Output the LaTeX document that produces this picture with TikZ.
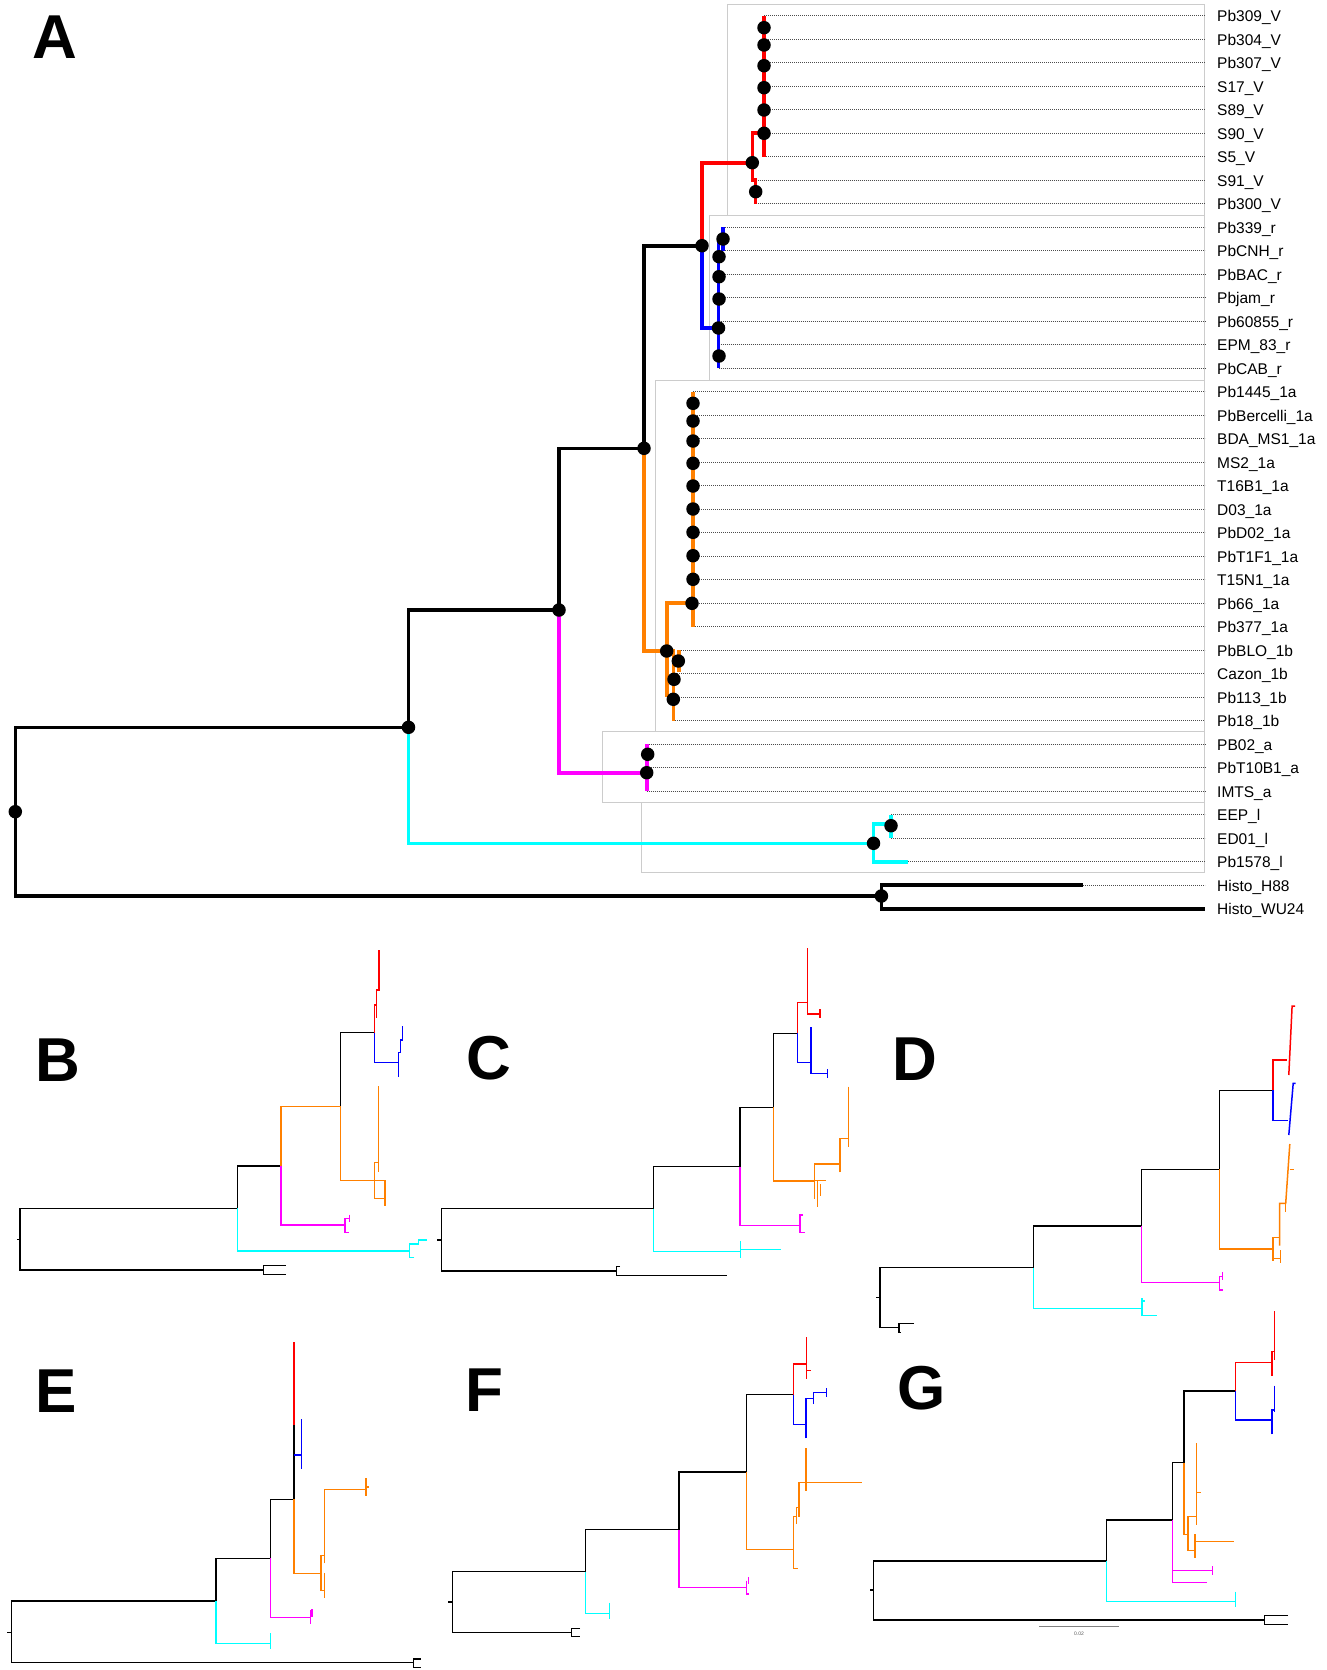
\documentclass[tikz,border=0pt]{standalone}
\usepackage{fontspec}
\setmainfont{Liberation Sans}
\definecolor{tred}{RGB}{255,0,0}
\definecolor{tblue}{RGB}{0,0,255}
\definecolor{torange}{RGB}{255,128,0}
\definecolor{tmag}{RGB}{255,0,255}
\definecolor{tcyan}{RGB}{0,255,255}
\begin{document}
\begin{tikzpicture}[x=1pt, y=-1pt,
  br/.style={line width=3.6pt},
  sb/.style={line width=1.5pt},
  dot/.style={circle, fill=black, inner sep=0pt, minimum size=13.5pt},
  leaf/.style={anchor=base west, inner sep=0pt, font=\fontsize{15.5}{18}\selectfont},
  lead/.style={gray!60!black, line width=0.8pt, dash pattern=on 0.8pt off 1.2pt},
  clade/.style={draw=gray!40, line width=1pt},
  panel/.style={anchor=base west, inner sep=0pt, font=\fontsize{62}{70}\selectfont\bfseries}]
\useasboundingbox (0,0) rectangle (1327,1670);
\fill[white] (0,0) rectangle (1327,1670);

\node[panel] (pa) at (32.5,58.6) {A};
\node[panel] (pb) at (35,1081.7) {B};
\node[panel] (pc) at (466.7,1079) {C};
\node[panel] (pd) at (892.6,1080) {D};
\node[panel] (pe) at (35,1412.7) {E};
\node[panel] (pf) at (465,1411) {F};
\node[panel] (pg) at (897,1409) {G};

\draw[clade] (727.4,4.3) rectangle (1204,215);
\draw[clade] (709.7,215) rectangle (1204,380);
\draw[clade] (655.6,380) rectangle (1204,731.7);
\draw[clade] (602,731.7) rectangle (1204,802.3);
\draw[clade] (641,802.3) rectangle (1204,872.3);

\coordinate (rb) at (1205,0);
\foreach \lab/\tx [count=\i from 0] in {Pb309\_V/764, Pb304\_V/764, Pb307\_V/764, S17\_V/764,
    S89\_V/764, S90\_V/764, S5\_V/764, S91\_V/755.5, Pb300\_V/755.5, Pb339\_r/723, PbCNH\_r/723,
    PbBAC\_r/718.5, Pbjam\_r/718.5, Pb60855\_r/718.5, EPM\_83\_r/718.5, PbCAB\_r/718.5,
    Pb1445\_1a/693, PbBercelli\_1a/693, BDA\_MS1\_1a/693, MS2\_1a/693, T16B1\_1a/693, D03\_1a/693,
    PbD02\_1a/693, PbT1F1\_1a/693, T15N1\_1a/693, Pb66\_1a/693, Pb377\_1a/693, PbBLO\_1b/679,
    Cazon\_1b/673.3, Pb113\_1b/673.3, Pb18\_1b/673.3, PB02\_a/646.7, PbT10B1\_a/646.7, IMTS\_a/646.7,
    EEP\_l/891, ED01\_l/891, Pb1578\_l/908.3, Histo\_H88/1083, Histo\_WU24/1205}{
  \coordinate (t\i) at (\tx,{15.7+23.5*\i});
  \node[leaf] (l\i) at (1217,{21.7+23.5*\i}) {\lab};
  \draw[lead] (t\i) -- (t\i -| rb);
}

\coordinate (root) at (15.3,811.7);
\coordinate (n1) at (408.5,727.3);
\coordinate (n2) at (559,610);
\coordinate (n3) at (644,448.3);
\coordinate (n4) at (702,245.7);
\coordinate (nrd) at (752.3,162.7);
\coordinate (nbl) at (718.5,328);
\coordinate (nor) at (666.7,651);
\coordinate (nmg) at (646.7,772.7);
\coordinate (ncy) at (873.5,843.3);
\coordinate (cyu) at (891,824);
\coordinate (nhi) at (881.4,896);

\draw[br] (root) |- (n1);
\draw[br] (root) |- (nhi);
\draw[br] (n1) |- (n2);
\draw[br] (n2) |- (n3);
\draw[br] (n3) |- (n4);
\draw[br] (nhi) |- (t37);
\draw[br] (nhi) |- (t38);
\draw[br, tcyan] (n1) |- (ncy);
\draw[br, tcyan] (ncy) |- (t36);
\draw[br, tcyan] (ncy) |- (cyu);
\draw[br, tcyan] (t34) -- (t35);
\draw[br, tmag] (n2) |- (nmg);
\draw[br, tmag] (t31) -- (t33);
\draw[br, torange] (n3) |- (nor);
\draw[br, torange] (nor) |- (t25);
\draw[br, torange] (nor) -- (nor |- t29);
\draw[br, torange] (t16) -- (t26);
\draw[br, torange] (nor) -| (t30);
\draw[br, torange] (t27) -- ++(0,21.5);
\draw[br, tred] (n4) |- (nrd);
\draw[br, tred] (nrd) |- (t5);
\draw[br, tred] (nrd) -- (nrd |- t7) -- (t7) -- (t8);
\draw[br, tred] (t0) -- (t6);
\draw[br, tblue] (n4) |- (nbl);
\draw[br, tblue] (t9) -- (t10);
\draw[br, tblue] (t15) -- ++(0,-128);

\foreach \n in {root,n1,n2,n3,n4,nrd,nbl,nor,nmg,ncy,nhi}
  \node[dot] (d\n) at (\n) {};
\foreach \x/\y [count=\k] in {764/27.7, 764/45, 764/65.7, 764/87.7, 764/110, 764/133.3, 755.7/191.7,
    723/239, 719/256.7, 719/276.7, 719/299, 719/356,
    693/403.3, 693/421, 693/441, 693/463.3, 693/486, 693/509, 693/532.3, 693/555.7, 693/579.3, 692/603.3,
    678.3/661, 674/679.3, 673.3/699.3, 647.7/754.3, 891/825.7}
  \node[dot] (c\k) at (\x,\y) {};

% B
\draw[sb] (17,1239.3) -- (20,1239.3);
\draw[sb] (237.7,1208.3) -| (20,1270) -- (263.3,1270);
\draw[sb] (285.7,1265.7) -| (263.3,1274.3) -- (285.7,1274.3);
\draw[sb] (237.7,1208.3) |- (281,1166);
\draw[sb] (340.7,1106.7) |- (374.3,1032.7);
\draw[sb,tcyan] (237.7,1208.3) |- (409.3,1251);
\draw[sb,tcyan] (414.3,1257.7) -| (409.3,1244) -| (418.3,1240) -- (427.3,1240);
\draw[sb,torange] (281,1166) |- (340.7,1106.7);
\draw[sb,torange] (340.7,1106.7) |- (374.3,1180.7) -- (385,1180.7) -- (385,1205.7);
\draw[sb,torange] (378.3,1086) -- (378.3,1171.7);
\draw[sb,torange] (378.3,1162.7) -- (374.3,1162.7) -- (374.3,1198.3) -- (385,1198.3);
\draw[sb,tmag] (281,1166) |- (345,1225);
\draw[sb,tmag] (349.3,1218.3) -| (345,1232.3) -- (349.3,1232.3);
\draw[sb,tmag] (349.3,1214.7) -- (349.3,1222);
\draw[sb,tred] (374.3,1032.7) -- (374.3,1005) -- (376.5,1005) -- (376.5,990) -- (379,990) -- (379,950);
\draw[sb,tred] (376.5,1005) -- (376.5,1018);
\draw[sb,tblue] (374.3,1032.7) |- (398.3,1062.7);
\draw[sb,tblue] (398.3,1076.7) -- (398.3,1052.7) -- (400.5,1052.7) -- (400.5,1040) -- (402.5,1040) -- (402.5,1026);

% C
\draw[sb] (437.3,1240) -- (441.7,1240);
\draw[sb] (653.3,1208.7) -| (441.7,1271) -- (616.7,1271);
\draw[sb] (620,1266.7) -| (616.7,1275.7) -- (726.7,1275.7);
\draw[sb] (653.3,1208.7) |- (740,1166.7);
\draw[sb] (740,1166.7) |- (773.3,1107.3);
\draw[sb] (773.3,1107.3) |- (797.7,1033.3);
\draw[sb,tcyan] (653.3,1208.7) |- (740.7,1251.7);
\draw[sb,tcyan] (740.7,1241) -- (740.7,1258.3);
\draw[sb,tcyan] (740.7,1249.3) -- (780.7,1249.3);
\draw[sb,tmag] (740,1166.7) |- (800,1225.7);
\draw[sb,tmag] (803,1215) -| (800,1232.3) -- (805,1232.3);
\draw[sb,torange] (773.3,1107.3) |- (814.3,1181);
\draw[sb,torange] (840,1164) -| (814.3,1199.3);
\draw[sb,torange] (840,1172.3) |- (848.3,1138.3);
\draw[sb,torange] (848.3,1086.7) -- (848.3,1146.7);
\draw[sb,torange] (814.3,1180.7) -- (826,1180.7);
\draw[sb,torange] (817.3,1180.7) -- (817.3,1207);
\draw[sb,torange] (820.5,1184) -- (820.5,1196);
\draw[sb,tred] (797.7,1033.3) |- (807.7,1002.3);
\draw[sb,tred] (807.7,948.3) |- (820,1014);
\draw[sb,tred] (820,1009) -- (820,1018);
\draw[sb,tblue] (797.7,1033.3) |- (811,1062.7);
\draw[sb,tblue] (811,1027.3) |- (827.7,1073.3);
\draw[sb,tblue] (827.7,1069) -- (827.7,1078);

% D
\draw[sb] (876,1297.7) -- (880.2,1297.7);
\draw[sb] (1033.5,1267.7) -| (880.2,1327.7) -- (898.8,1327.7);
\draw[sb] (914,1323.3) -| (898.8,1332.7) -- (901,1332.7);
\draw[sb] (1033.5,1267.7) |- (1141.5,1226);
\draw[sb] (1141.5,1226) |- (1219.4,1169.3);
\draw[sb] (1219.4,1169.3) |- (1272.8,1090.3);
\draw[sb,tcyan] (1033.5,1267.7) |- (1141.8,1308.7);
\draw[sb,tcyan] (1141.8,1298.3) |- (1157,1315.3);
\draw[sb,tcyan] (1141.8,1301) -- (1145,1301);
\draw[sb,tmag] (1141.5,1226) |- (1219.4,1282.7);
\draw[sb,tmag] (1222.7,1276.7) -| (1219.4,1290) -- (1223,1290);
\draw[sb,tmag] (1222.7,1272) -- (1222.7,1280);
\draw[sb,torange] (1219.4,1169.3) |- (1272.8,1249);
\draw[sb,torange] (1279.6,1237.7) -| (1272.8,1260.7);
\draw[sb,torange] (1279.6,1245.7) |- (1285.7,1203.3) -- (1289.8,1144);
\draw[sb,torange] (1285.7,1203.3) -- (1285.7,1211.7);
\draw[sb,torange] (1289.8,1169.3) -- (1294.2,1169.3);
\draw[sb,torange] (1272.8,1258.3) -- (1280.3,1258.3);
\draw[sb,torange] (1280.3,1250) -- (1280.3,1263);
\draw[sb,tred] (1272.8,1090.3) |- (1287.4,1060);
\draw[sb,tred] (1288.8,1075) -- (1292.1,1006) -- (1295.2,1006);
\draw[sb,tblue] (1272.8,1090.3) |- (1288,1120.3);
\draw[sb,tblue] (1288.8,1135) -- (1293.2,1083.3) -- (1295.5,1083.3);

% E
\draw[sb] (7.3,1632.3) -- (11.7,1632.3);
\draw[sb] (216,1601) -| (11.7,1662.7) -- (413.3,1662.7);
\draw[sb] (420.7,1659) -| (413.3,1667.7) -- (420.7,1667.7);
\draw[sb] (216,1601) |- (270.7,1558.3);
\draw[sb] (270.7,1558.3) |- (294,1499.3);
\draw[sb] (294,1499.3) -- (294,1425);
\draw[sb,tcyan] (216,1601) |- (270.7,1643.3);
\draw[sb,tcyan] (270.7,1633.3) -- (270.7,1649.3);
\draw[sb,tmag] (270.7,1558.3) |- (310.7,1617.7);
\draw[sb,tmag] (310.7,1610) -- (310.7,1624.3);
\draw[sb,tmag] (312,1609) -- (312,1617);
\draw[sb,torange] (294,1499.3) |- (321,1573.3);
\draw[sb,torange] (324.7,1555.7) -| (321,1590.7) -- (324.7,1590.7);
\draw[sb,torange] (324.7,1563.3) |- (366,1489.3);
\draw[sb,torange] (366,1478.3) -- (366,1495.7);
\draw[sb,torange] (366,1487) -- (369,1487);
\draw[sb,torange] (324.7,1573.3) -- (324.7,1598.3);
\draw[sb,tred] (294,1425) -- (294,1341.7);
\draw[sb,tblue] (294,1455) -- (301.7,1455);
\draw[sb,tblue] (301.7,1419) -- (301.7,1469.3);

% F
\draw[sb] (448.3,1602) -- (452.7,1602);
\draw[sb] (585.7,1571.7) -| (452.7,1632.7) -- (571.7,1632.7);
\draw[sb] (580,1628.3) -| (571.7,1636.7) -- (580,1636.7);
\draw[sb] (585.7,1571.7) |- (679,1529.7);
\draw[sb] (679,1529.7) |- (746.7,1472);
\draw[sb] (746.7,1472) |- (793.3,1394.7);
\draw[sb,tcyan] (585.7,1571.7) |- (609.3,1613.3);
\draw[sb,tcyan] (609.3,1602.7) -- (609.3,1619);
\draw[sb,tmag] (679,1529.7) |- (746.7,1587.3);
\draw[sb,tmag] (746.7,1580.7) |- (749,1594);
\draw[sb,tmag] (748.5,1577) -- (748.5,1584);
\draw[sb,torange] (746.7,1472) |- (793.3,1549.3);
\draw[sb,torange] (796.7,1516.7) -| (793.3,1568.3) -- (798.3,1568.3);
\draw[sb,torange] (796.7,1524) |- (799,1507.7);
\draw[sb,torange] (799,1516.7) |- (861.7,1482.7);
\draw[sb,torange] (806,1448.3) -- (806,1490.7);
\draw[sb,tred] (793.3,1394.7) |- (806.7,1364);
\draw[sb,tred] (806.7,1337.3) -- (806.7,1379.3);
\draw[sb,tred] (806.7,1370.7) -- (810.7,1370.7);
\draw[sb,tblue] (793.3,1394.7) |- (806,1424.3);
\draw[sb,tblue] (806,1438.3) |- (813.3,1398.7);
\draw[sb,tblue] (813.3,1404) |- (826.7,1392.3);
\draw[sb,tblue] (826.7,1388) -- (826.7,1397);

% G
\draw[sb] (870,1590) -- (873.4,1590);
\draw[sb] (1106.3,1561) -| (873.4,1620) -- (1264.4,1620);
\draw[sb] (1288,1615.7) -| (1264.4,1624.3) -- (1288,1624.3);
\draw[sb] (1106.3,1561) |- (1172.3,1520);
\draw[sb] (1172.3,1520) |- (1183.8,1462.7);
\draw[sb] (1183.8,1462.7) |- (1235.6,1391);
\draw[sb,tcyan] (1106.3,1561) |- (1235.6,1601.7);
\draw[sb,tcyan] (1235.6,1591.7) -- (1235.6,1607.3);
\draw[sb,tmag] (1172.3,1520) |- (1206.8,1582.7);
\draw[sb,tmag] (1172.3,1570.7) -- (1212.6,1570.7);
\draw[sb,tmag] (1212.6,1566) -- (1212.6,1575);
\draw[sb,torange] (1183.8,1462.7) |- (1188.2,1534.3);
\draw[sb,torange] (1196.7,1516.7) -| (1188.2,1550.7) -- (1195,1550.7);
\draw[sb,torange] (1196.7,1443.3) -- (1196.7,1525);
\draw[sb,torange] (1196.7,1492.3) -- (1201,1492.3);
\draw[sb,torange] (1195,1534.3) -- (1195,1557.7);
\draw[sb,torange] (1195,1541.7) -- (1233.9,1541.7);
\draw[sb,tred] (1235.6,1391) |- (1271.8,1362.3);
\draw[sb,tred] (1271.8,1376) |- (1274.5,1351.7);
\draw[sb,tred] (1274.5,1311) -- (1274.5,1360);
\draw[sb,tblue] (1235.6,1391) |- (1271.8,1420);
\draw[sb,tblue] (1271.8,1434.3) |- (1274.5,1410);
\draw[sb,tblue] (1274.5,1385.7) -- (1274.5,1411.7);
\draw[gray, line width=0.8pt] (1039.3,1626.7) -- (1118.8,1626.7);
\node[font=\fontsize{5}{6}\selectfont, text=gray!70!black, inner sep=0pt] (sbar) at (1079,1633.5) {0.02};
\end{tikzpicture}
\end{document}
